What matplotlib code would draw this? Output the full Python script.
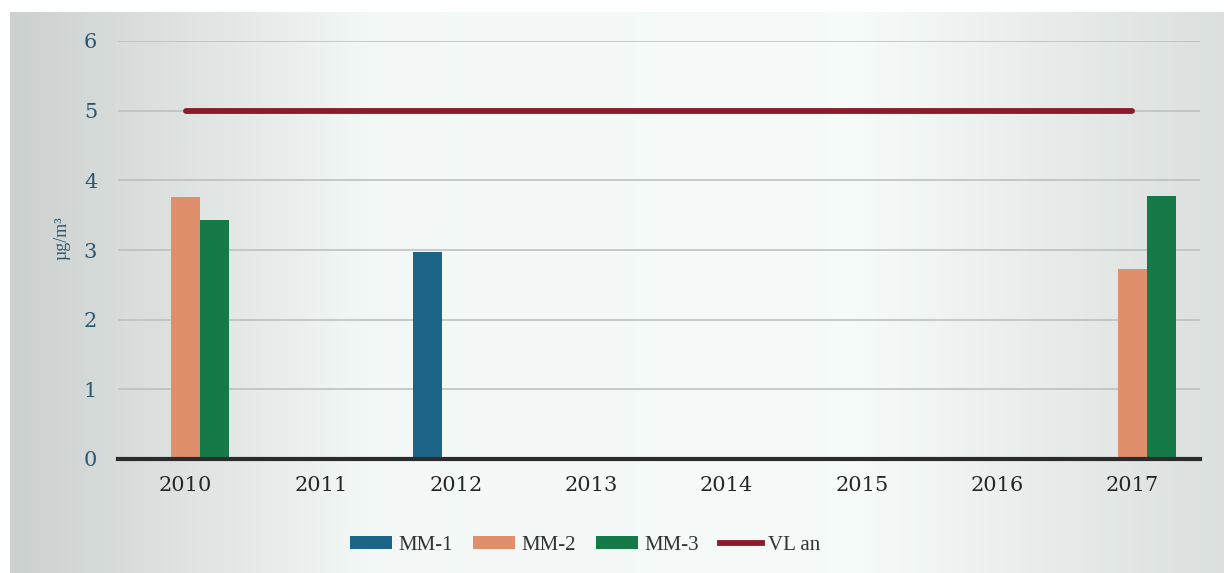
import numpy as np
import matplotlib
matplotlib.use("Agg")
import matplotlib.pyplot as plt
from matplotlib.patches import Patch
from matplotlib.lines import Line2D

years = ["2010", "2011", "2012", "2013", "2014", "2015", "2016", "2017"]
mm1 = [np.nan, np.nan, 2.97, np.nan, np.nan, np.nan, np.nan, np.nan]
mm2 = [3.76, np.nan, np.nan, np.nan, np.nan, np.nan, np.nan, 2.73]
mm3 = [3.43, np.nan, np.nan, np.nan, np.nan, np.nan, np.nan, 3.77]
vl_an = [5, 5, 5, 5, 5, 5, 5, 5]
yticks = [0, 1, 2, 3, 4, 5, 6]

c_mm1 = "#1d6489"
c_mm2 = "#e08f6c"
c_mm3 = "#167a48"
c_vl = "#8a1b2b"
c_tick_y = "#2a5872"
c_tick_x = "#262626"

plt.rcParams["font.family"] = ["DejaVu Serif"]

W, H = 1224, 573
fig = plt.figure(figsize=(W / 100, H / 100), dpi=100, facecolor="white")

# soft paper-toned backdrop, greyer at the edges
bg = fig.add_axes([10 / W, 0, 1 - 10 / W, 1 - 12 / H], zorder=-10)
xs = np.array([0.0, 0.12, 0.30, 0.70, 0.85, 1.0])
vals = np.array([0.80, 0.86, 0.955, 0.965, 0.91, 0.86])
grid_x = np.linspace(0, 1, 400)
shade = np.interp(grid_x, xs, vals)
img = np.dstack([shade, shade + 0.02, shade + 0.015]).clip(0, 1)
bg.imshow(img, aspect="auto", extent=[0, 1, 0, 1])
bg.set_axis_off()

ax = fig.add_axes([118 / W, (H - 459) / H, (1200 - 118) / W, (459 - 41) / H])
ax.set_facecolor("none")

x = np.arange(len(years))
bw = 0.214
ax.bar(x - bw, mm1, width=bw, color=c_mm1, zorder=3)
ax.bar(x, mm2, width=bw, color=c_mm2, zorder=3)
ax.bar(x + bw, mm3, width=bw, color=c_mm3, zorder=3)
ax.plot(x, vl_an, color=c_vl, lw=4.2, solid_capstyle="round", zorder=4)

ax.set_xlim(-0.5, len(years) - 0.5)
ax.set_ylim(0, 6)
ax.set_yticks(yticks)
ax.set_xticks(x)
ax.set_xticklabels(years)
ax.grid(axis="y", color="#b9bdbd", lw=1.1, zorder=0)
for s in ["top", "right", "left"]:
    ax.spines[s].set_visible(False)
ax.spines["bottom"].set_color("#2b2b2b")
ax.spines["bottom"].set_linewidth(3)
ax.spines["bottom"].set_zorder(5)
ax.tick_params(axis="both", length=0)
ax.tick_params(axis="y", pad=15, labelsize=15, labelcolor=c_tick_y)
ax.tick_params(axis="x", pad=12, labelsize=15, labelcolor=c_tick_x)

fig.text(62 / W, 1 - 238 / H, "µg/m³", rotation=90, ha="center", va="center",
         fontsize=13, color=c_tick_y, family=["Liberation Serif"])

handles = [
    Patch(facecolor=c_mm1, label="MM-1"),
    Patch(facecolor=c_mm2, label="MM-2"),
    Patch(facecolor=c_mm3, label="MM-3"),
    Line2D([0], [0], color=c_vl, lw=4.2, label="VL an"),
]
fig.legend(handles=handles, loc="center", bbox_to_anchor=(585 / W, 1 - 545 / H),
           ncol=4, frameon=False, prop={"family": "Liberation Serif", "size": 15},
           handlelength=2.0, handleheight=0.6, columnspacing=1.0,
           handletextpad=0.3, labelcolor="#333333")

fig.savefig("out.png", dpi=100, facecolor="white")
